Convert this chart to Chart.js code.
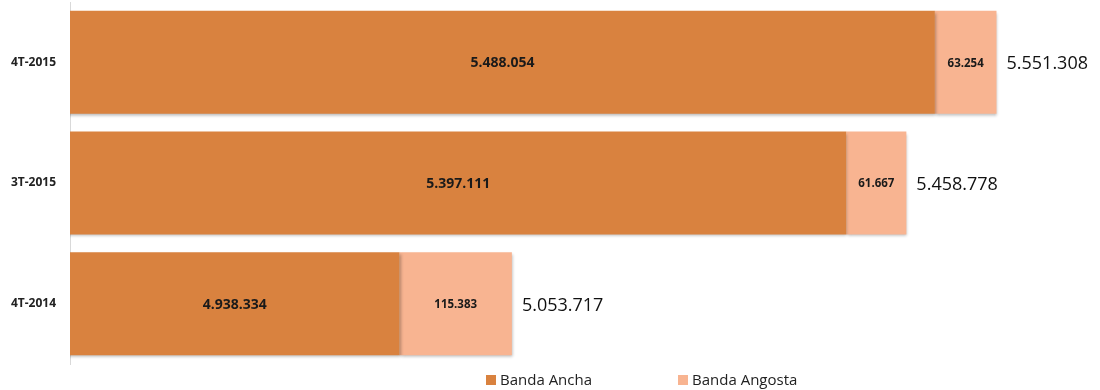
<!DOCTYPE html>
<html>
<head>
<meta charset="utf-8">
<script src="https://cdn.jsdelivr.net/npm/chart.js@4"></script>
<style>
  body { margin: 0; background: #fff; }
  #wrap { position: relative; width: 1100px; height: 390px; }
  #legend { position: absolute; top: 369px; left: 486px; font-family: "Open Sans", sans-serif; font-size: 15px; color: #222; white-space: nowrap; }
  #legend span.item { display: inline-block; margin-right: 86px; }
  #legend i { display: inline-block; width: 10px; height: 10px; margin-right: 4px; vertical-align: 0px; }
</style>
</head>
<body>
<div id="wrap">
  <canvas id="chart" width="1100" height="390"></canvas>
  <div id="legend"></div>
</div>
<script>
// datos por trimestre
const periodos = ['4T-2015', '3T-2015', '4T-2014'];
const bandaAncha = [5488054, 5397111, 4938334];
const bandaAngosta = [63254, 61667, 115383];
const series = ['Banda Ancha', 'Banda Angosta'];
const colores = ['#d9823f', '#f8b491'];

function fmt(n) {
  return String(n).replace(/\B(?=(\d{3})+(?!\d))/g, '.');
}

// etiquetas dentro de las barras y total a la derecha
const etiquetas = {
  id: 'etiquetas',
  beforeDatasetsDraw(chart) {
    const ctx = chart.ctx;
    ctx.save();
    ctx.shadowColor = 'rgba(0,0,0,0.28)';
    ctx.shadowBlur = 3;
    ctx.shadowOffsetX = 1;
    ctx.shadowOffsetY = 2;
  },
  afterDatasetsDraw(chart) {
    const ctx = chart.ctx;
    ctx.restore();
    const area = chart.chartArea;
    ctx.save();
    ctx.textBaseline = 'middle';
    ctx.fillStyle = '#1a1a1a';
    chart.data.datasets.forEach((ds, di) => {
      const meta = chart.getDatasetMeta(di);
      meta.data.forEach((bar, i) => {
        const left = Math.max(Math.min(bar.base, bar.x), area.left);
        const right = Math.max(bar.base, bar.x);
        ctx.textAlign = 'center';
        ctx.font = di === 0 ? 'bold 14px "Open Sans"' : 'bold 11.5px "Open Sans"';
        ctx.fillText(fmt(ds.data[i]), (left + right) / 2, bar.y + 1);
        if (di === chart.data.datasets.length - 1) {
          const total = bandaAncha[i] + bandaAngosta[i];
          ctx.textAlign = 'left';
          ctx.fillStyle = '#111';
          ctx.font = '18px "Open Sans"';
          ctx.fillText(fmt(total), right + 10, bar.y + 2);
          ctx.fillStyle = '#1a1a1a';
        }
      });
    });
    ctx.restore();
  }
};

const chart = new Chart(document.getElementById('chart'), {
  type: 'bar',
  data: {
    labels: periodos,
    datasets: [
      { label: series[0], data: bandaAncha, backgroundColor: colores[0] },
      { label: series[1], data: bandaAngosta, backgroundColor: colores[1] }
    ]
  },
  options: {
    indexAxis: 'y',
    responsive: false,
    animation: false,
    layout: { padding: { top: 2, bottom: 26, left: 0, right: 0 } },
    datasets: { bar: { barPercentage: 0.853, categoryPercentage: 1 } },
    scales: {
      x: { stacked: true, display: false, min: 4600000, max: 5657600 },
      y: {
        stacked: true,
        grid: { display: false },
        border: { color: '#d9d9d9', width: 1 },
        ticks: { color: '#222', padding: 6, font: { family: 'Open Sans', size: 12, weight: 'bold' } },
        afterFit(scale) {
          scale.width = 70;
          scale.paddingTop = 0;
          scale.paddingBottom = 0;
        }
      }
    },
    plugins: { legend: { display: false }, tooltip: { enabled: false } }
  },
  plugins: [etiquetas]
});

document.getElementById('legend').innerHTML = series.map((s, i) =>
  `<span class="item"><i style="background:${colores[i]}"></i>${s}</span>`).join('');
</script>
</body>
</html>
